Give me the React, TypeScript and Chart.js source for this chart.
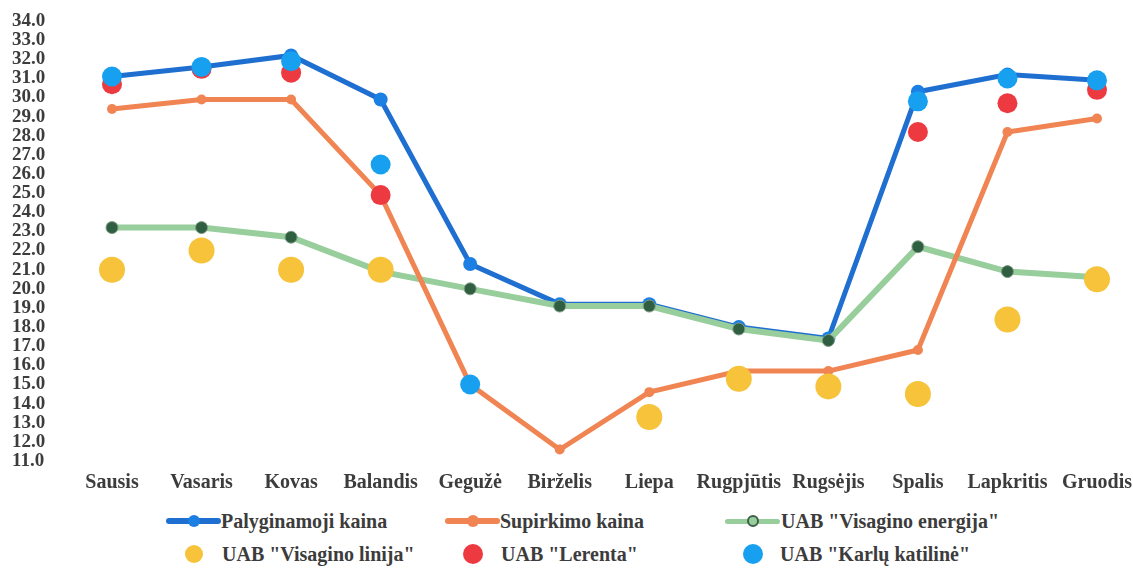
import React, { useEffect, useRef } from "react";
import { Chart, registerables } from "chart.js";

Chart.register(...registerables);

const months = ["Sausis", "Vasaris", "Kovas", "Balandis", "Gegužė", "Birželis", "Liepa", "Rugpjūtis", "Rugsėjis", "Spalis", "Lapkritis", "Gruodis"];
const palyginamoji = [31.1, 31.6, 32.2, 29.9, 21.3, 19.2, 19.2, 18.0, 17.4, 30.3, 31.2, 30.9];
const supirkimo = [29.4, 29.9, 29.9, 24.9, 15.0, 11.6, 14.6, 15.7, 15.7, 16.8, 28.2, 28.9];
const visaginoEnergija = [23.2, 23.2, 22.7, 20.9, 20.0, 19.1, 19.1, 17.9, 17.3, 22.2, 20.9, 20.6];
const visaginoLinija = [21.0, 22.0, 21.0, 21.0, null, null, 13.3, 15.3, 14.9, 14.5, 18.4, 20.5];
const lerenta = [30.7, 31.5, 31.3, 24.9, null, null, null, null, null, 28.2, 29.7, 30.4];
const karlu = [31.1, 31.6, 31.9, 26.5, 15.0, null, null, null, null, 29.8, 31.0, 30.9];

const seriesNames = [
  "Palyginamoji kaina",
  "Supirkimo kaina",
  'UAB "Visagino energija"',
  'UAB "Visagino linija"',
  'UAB "Lerenta"',
  'UAB "Karlų katilinė"',
];

const C_BLUE = "#1f6fd0";
const C_BLUE_PT = "#1b7fe3";
const C_ORANGE = "#f08452";
const C_GREEN = "#98cd9c";
const C_GREEN_PT = "#2f5f40";
const C_YELLOW = "#f6c33a";
const C_RED = "#ec3a40";
const C_LIGHTBLUE = "#17a0f0";

const FONT = "'Liberation Serif', 'DejaVu Serif', serif";
const TEXT = "#3c3c3c";

export default function App() {
  const ref = useRef<HTMLCanvasElement | null>(null);

  useEffect(() => {
    if (!ref.current) return;
    const chart = new Chart(ref.current, {
      type: "line",
      data: {
        labels: months,
        datasets: [
          {
            label: seriesNames[0],
            data: palyginamoji,
            borderColor: C_BLUE,
            backgroundColor: C_BLUE_PT,
            borderWidth: 5,
            pointRadius: 7,
            pointBorderWidth: 0,
            pointBackgroundColor: C_BLUE_PT,
            order: 5,
          },
          {
            label: seriesNames[1],
            data: supirkimo,
            borderColor: C_ORANGE,
            backgroundColor: C_ORANGE,
            borderWidth: 5,
            pointRadius: 5,
            pointBorderWidth: 0,
            pointBackgroundColor: C_ORANGE,
            order: 3,
          },
          {
            label: seriesNames[2],
            data: visaginoEnergija,
            borderColor: C_GREEN,
            backgroundColor: C_GREEN_PT,
            borderWidth: 6,
            pointRadius: 6,
            pointBorderWidth: 1,
            pointBorderColor: "#7f9a86",
            pointBackgroundColor: C_GREEN_PT,
            order: 4,
          },
          {
            label: seriesNames[3],
            data: visaginoLinija,
            showLine: false,
            borderColor: C_YELLOW,
            backgroundColor: C_YELLOW,
            pointRadius: 13,
            pointBorderWidth: 0,
            pointBackgroundColor: C_YELLOW,
            order: 2,
          },
          {
            label: seriesNames[4],
            data: lerenta,
            showLine: false,
            borderColor: C_RED,
            backgroundColor: C_RED,
            pointRadius: 10,
            pointBorderWidth: 0,
            pointBackgroundColor: C_RED,
            order: 1,
          },
          {
            label: seriesNames[5],
            data: karlu,
            showLine: false,
            borderColor: C_LIGHTBLUE,
            backgroundColor: C_LIGHTBLUE,
            pointRadius: 10,
            pointBorderWidth: 0,
            pointBackgroundColor: C_LIGHTBLUE,
            order: 0,
          },
        ],
      },
      options: {
        responsive: false,
        animation: false,
        layout: { padding: { top: 21, right: 36, left: 12, bottom: 0 } },
        plugins: {
          legend: { display: false },
          tooltip: { enabled: false },
        },
        scales: {
          x: {
            offset: false,
            grid: { display: false, drawTicks: false },
            border: { display: false },
            ticks: {
              autoSkip: false,
              maxRotation: 0,
              padding: 10,
              color: TEXT,
              font: { family: FONT, size: 20, weight: "bold" },
            },
            afterFit: (s: any) => {
              s.height = 39;
              s.paddingLeft = 0;
              s.paddingRight = 0;
            },
          },
          y: {
            min: 11,
            max: 34,
            grid: { display: false, drawTicks: false },
            border: { display: false },
            ticks: {
              stepSize: 1,
              autoSkip: false,
              padding: 0,
              crossAlign: "far",
              color: TEXT,
              font: { family: FONT, size: 19, weight: "bold" },
              callback: (v: any) => Number(v).toFixed(1),
            },
            afterFit: (s: any) => {
              s.width = 100;
            },
          },
        },
      },
    });
    return () => chart.destroy();
  }, []);

  const textStyle: React.CSSProperties = {
    position: "absolute",
    fontFamily: FONT,
    fontSize: 20,
    fontWeight: "bold",
    color: TEXT,
    whiteSpace: "nowrap",
    lineHeight: "22px",
  };

  const lineSample = (left: number, top: number, color: string, dot: string, w: number, dotR: number, dotBorder?: string) => (
    <>
      <div style={{ position: "absolute", left, top: top - w / 2, width: 55, height: w, background: color, borderRadius: w / 2 }} />
      <div
        style={{
          position: "absolute",
          left: left + 27.5 - dotR,
          top: top - dotR,
          width: dotR * 2,
          height: dotR * 2,
          borderRadius: "50%",
          background: dot,
          boxSizing: "border-box",
          border: dotBorder ? `2px solid ${dotBorder}` : "none",
        }}
      />
    </>
  );

  const dotSample = (cx: number, cy: number, color: string, r: number) => (
    <div style={{ position: "absolute", left: cx - r, top: cy - r, width: r * 2, height: r * 2, borderRadius: "50%", background: color }} />
  );

  const row1 = 521;
  const row2 = 554;

  return (
    <div style={{ position: "fixed", left: 0, top: 0, width: 1133, height: 569, background: "#ffffff", overflow: "hidden" }}>
      <canvas ref={ref} width={1133} height={500} style={{ position: "absolute", left: 0, top: 0, width: 1133, height: 500 }} />
      {lineSample(166, row1, C_BLUE, C_BLUE_PT, 6, 6)}
      <div style={{ ...textStyle, left: 221, top: row1 - 11 }}>{seriesNames[0]}</div>
      {lineSample(445, row1, C_ORANGE, C_ORANGE, 6, 6)}
      <div style={{ ...textStyle, left: 500, top: row1 - 11 }}>{seriesNames[1]}</div>
      {lineSample(725, row1, C_GREEN, C_GREEN, 5, 6, "#3f5f48")}
      <div style={{ ...textStyle, left: 781, top: row1 - 11 }}>{seriesNames[2]}</div>
      {dotSample(194, row2, C_YELLOW, 9)}
      <div style={{ ...textStyle, left: 222, top: row2 - 11 }}>{seriesNames[3]}</div>
      {dotSample(473, row2, C_RED, 10)}
      <div style={{ ...textStyle, left: 501, top: row2 - 11 }}>{seriesNames[4]}</div>
      {dotSample(753, row2, C_LIGHTBLUE, 10)}
      <div style={{ ...textStyle, left: 780, top: row2 - 11 }}>{seriesNames[5]}</div>
    </div>
  );
}
